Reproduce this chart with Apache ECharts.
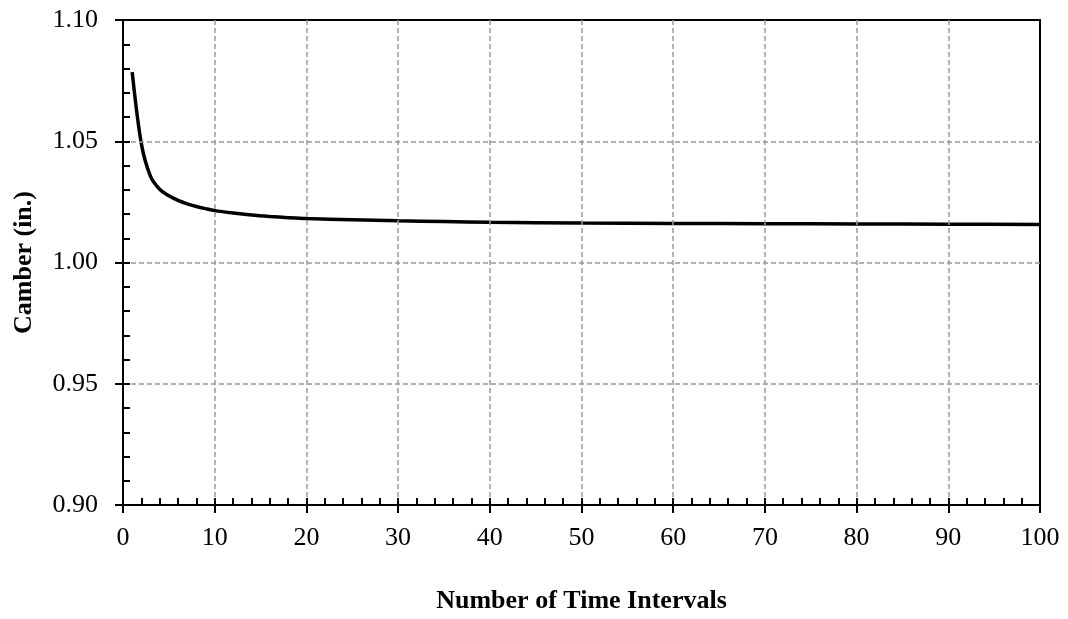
<!DOCTYPE html>
<html>
<head>
<meta charset="utf-8">
<script src="https://cdn.jsdelivr.net/npm/echarts@6/dist/echarts.min.js"></script>
<style>html,body{margin:0;padding:0;background:#fff}#c{width:1068px;height:619px}</style>
</head>
<body>
<div id="c"></div>
<script>
const xValues = [1,2,3,4,5,6,7,8,9,10,12,14,16,18,20,25,30,35,40,50,60,70,80,90,100];
const camber  = [1.0785,1.049,1.0355,1.0302,1.0275,1.0256,1.0242,1.0231,1.0222,1.0214,1.0204,1.0196,1.0190,1.0185,1.0181,1.0176,1.0172,1.0169,1.0166,1.0163,1.0161,1.0160,1.0159,1.0158,1.0157];
const xTitle = 'Number of Time Intervals';
const yTitle = 'Camber (in.)';

const font = 'Liberation Serif';
const chart = echarts.init(document.getElementById('c'));
const commonX = {type:'value', min:0, max:100, interval:10};
const commonY = {type:'value', min:0.90, max:1.10, interval:0.05};
const bareLine = {show:true, onZero:false, lineStyle:{color:'#000', width:2}};
chart.setOption({
  animation:false,
  grid:{left:123, right:28, top:20, bottom:112, show:false},
  xAxis:[
    Object.assign({}, commonX, {
      position:'bottom',
      name:xTitle, nameLocation:'middle', nameGap:83,
      nameTextStyle:{fontFamily:font, fontSize:26, fontWeight:'bold', color:'#000'},
      axisLine:bareLine,
      axisTick:{show:true, inside:true, length:7, lineStyle:{color:'#000', width:2}},
      minorTick:{show:true, splitNumber:5, length:7, lineStyle:{color:'#000', width:2}},
      axisLabel:{fontFamily:font, fontSize:26, color:'#000', margin:20},
      splitLine:{show:true, showMinLine:false, showMaxLine:false, lineStyle:{color:'#999', width:1.5, type:[5,3]}},
      z:5
    }),
    Object.assign({}, commonX, {
      position:'bottom',
      axisLine:{show:false},
      axisTick:{show:true, inside:false, length:8, lineStyle:{color:'#000', width:2}},
      axisLabel:{show:false},
      splitLine:{show:false}
    }),
    Object.assign({}, commonX, {
      position:'top',
      axisLine:bareLine,
      axisTick:{show:false}, axisLabel:{show:false}, splitLine:{show:false}
    })
  ],
  yAxis:[
    Object.assign({}, commonY, {
      position:'left',
      name:yTitle, nameLocation:'middle', nameGap:86, nameRotate:90,
      nameTextStyle:{fontFamily:font, fontSize:26, fontWeight:'bold', color:'#000'},
      axisLine:bareLine,
      axisTick:{show:true, inside:true, length:7, lineStyle:{color:'#000', width:2}},
      minorTick:{show:true, splitNumber:5, length:7, lineStyle:{color:'#000', width:2}},
      axisLabel:{fontFamily:font, fontSize:26, color:'#000', margin:25, formatter:v=>v.toFixed(2)},
      splitLine:{show:true, showMinLine:false, showMaxLine:false, lineStyle:{color:'#999', width:1.5, type:[5,3]}},
      z:5
    }),
    Object.assign({}, commonY, {
      position:'left',
      axisLine:{show:false},
      axisTick:{show:true, inside:false, length:8, lineStyle:{color:'#000', width:2}},
      axisLabel:{show:false},
      splitLine:{show:false}
    }),
    Object.assign({}, commonY, {
      position:'right',
      axisLine:bareLine,
      axisTick:{show:false}, axisLabel:{show:false}, splitLine:{show:false}
    })
  ],
  series:[{
    type:'line',
    xAxisIndex:0, yAxisIndex:0,
    data:xValues.map((x,i)=>[x, camber[i]]),
    showSymbol:false, smooth:0.3,
    lineStyle:{color:'#000', width:3.5}
  }]
});
</script>
</body>
</html>
